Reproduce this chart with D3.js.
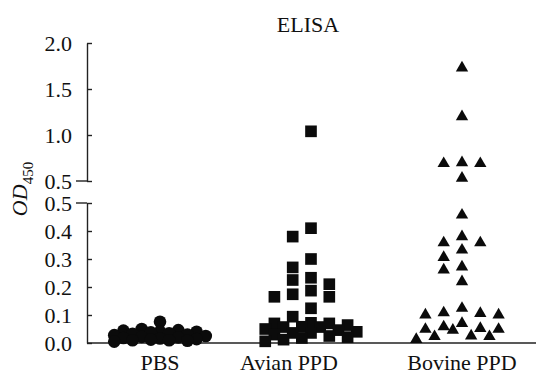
<!DOCTYPE html>
<html>
<head>
<meta charset="utf-8">
<script src="https://cdn.jsdelivr.net/npm/d3@7"></script>
<style>
  body { margin: 0; background: #fff; }
  svg { display: block; }
  text { font-family: "Liberation Serif", "Times New Roman", serif; fill: #111; }
</style>
</head>
<body>
<svg id="chart"></svg>
<script>
// data
const categories = ["PBS", "Avian PPD", "Bovine PPD"];
const pbsValues = [0.076, 0.05, 0.046, 0.044, 0.04, 0.04, 0.038, 0.035, 0.033, 0.03, 0.028,
    0.025, 0.022, 0.02, 0.018, 0.016, 0.014, 0.012, 0.01, 0.01, 0.008, 0.005];
const avianValues = [1.04, 0.41, 0.38, 0.30, 0.27, 0.233, 0.225, 0.21, 0.187, 0.174, 0.165, 0.165,
    0.124, 0.094, 0.072, 0.07, 0.07, 0.064, 0.058, 0.057, 0.057, 0.05, 0.046, 0.04,
    0.036, 0.036, 0.03, 0.025, 0.021, 0.018, 0.012, 0.006];
const bovineValues = [1.73, 1.20, 0.70, 0.69, 0.69, 0.53, 0.457, 0.38, 0.358, 0.358, 0.332, 0.306,
    0.272, 0.261, 0.219, 0.124, 0.108, 0.106, 0.10, 0.10, 0.07, 0.058, 0.052, 0.049, 0.049,
    0.046, 0.025, 0.023, 0.023, 0.013];
const lowerTicks = [0, 0.1, 0.2, 0.3, 0.4, 0.5];
const upperTicks = [0.5, 1.0, 1.5, 2.0];

const W = 536, H = 376;
const axisX = 87;

const svg = d3.select("#chart").attr("width", W).attr("height", H);

// broken y axis: two linear pieces
const yLow = d3.scaleLinear().domain([0, 0.5]).range([343, 203]);
const yHigh = d3.scaleLinear().domain([0.5, 2.0]).range([181, 43]);
const yOf = v => v > 0.5 ? yHigh(v) : yLow(v);

const x = d3.scalePoint().domain(categories).range([160, 462]);

const ink = "#0b0b0b";

// lower axis
const gLow = svg.append("g").attr("transform", `translate(${axisX},0)`)
    .call(d3.axisLeft(yLow).tickValues(lowerTicks).tickFormat(d3.format(".1f"))
        .tickSizeInner(-5).tickSizeOuter(0).tickPadding(15));
// upper axis
const gHigh = svg.append("g").attr("transform", `translate(${axisX},0)`)
    .call(d3.axisLeft(yHigh).tickValues(upperTicks).tickFormat(d3.format(".1f"))
        .tickSizeInner(-5).tickSizeOuter(0).tickPadding(15));

[gLow, gHigh].forEach(g => {
    g.selectAll("path.domain").attr("stroke", "#222").attr("stroke-width", 1.4);
    g.selectAll(".tick line").attr("stroke", "#222").attr("stroke-width", 1.4);
    g.selectAll(".tick text").attr("font-size", 22).attr("fill", "#111")
        .style("font-family", "'Liberation Serif', serif");
});
// caps at the break (0.5 ticks reach out to the left)
[yLow(0.5), yHigh(0.5)].forEach(yy => {
    svg.append("line").attr("x1", axisX - 11).attr("x2", axisX)
        .attr("y1", yy).attr("y2", yy).attr("stroke", "#222").attr("stroke-width", 1.4);
});

// x axis line
svg.append("line").attr("x1", axisX).attr("x2", W)
    .attr("y1", yLow(0)).attr("y2", yLow(0))
    .attr("stroke", "#222").attr("stroke-width", 1.6);

// category labels (the middle one sits a bit left of its column in the original)
const labelShift = {"Avian PPD": -22};
svg.append("g").selectAll("text").data(categories).join("text")
    .attr("x", d => x(d) + (labelShift[d] || 0)).attr("y", 370)
    .attr("text-anchor", "middle").attr("font-size", 22)
    .text(d => d);

// title
svg.append("text").attr("x", 308).attr("y", 32).attr("text-anchor", "middle")
    .attr("font-size", 22).text("ELISA");

// y label OD450
const yl = svg.append("text").attr("transform", "translate(27,189) rotate(-90)")
    .attr("text-anchor", "middle").attr("font-size", 22);
yl.append("tspan").attr("font-style", "italic").text("OD");
yl.append("tspan").attr("font-size", 15).attr("dy", 6).text("450");

// simple column scatter like Prism: points go to free slots left/right of centre
function swarm(values, cx, size) {
    const step = 18.3;
    const pts = values.map(v => ({v, y: yOf(v)})).sort((a, b) => a.y - b.y);
    const placed = [];
    for (const p of pts) {
        let best = null;
        for (const c of [0, -1, 1, -2, 2]) {
            const xx = cx + c * step;
            if (placed.every(q => Math.hypot(q.x - xx, q.y - p.y) >= size)) { best = xx; break; }
        }
        if (best === null) {
            let bestD = -1;
            for (const c of [0, -0.5, 0.5, -1, 1, -1.5, 1.5, -2, 2, -2.5, 2.5]) {
                const xx = cx + c * step;
                const dd = d3.min(placed, q => Math.hypot(q.x - xx, q.y - p.y));
                if (dd > bestD + 0.5) { bestD = dd; best = xx; }
            }
        }
        p.x = best;
        placed.push(p);
    }
    return placed;
}

const groups = [
    {values: pbsValues, cat: "PBS", symbol: d3.symbolCircle, area: 125},
    {values: avianValues, cat: "Avian PPD", symbol: d3.symbolSquare, area: 136},
    {values: bovineValues, cat: "Bovine PPD", symbol: d3.symbolTriangle, area: 66}
];

groups.forEach(gr => {
    const pts = swarm(gr.values, x(gr.cat), 12);
    svg.append("g").selectAll("path").data(pts).join("path")
        .attr("transform", d => `translate(${d.x},${d.y})`)
        .attr("d", d3.symbol(gr.symbol, gr.area))
        .attr("fill", ink);
});
</script>
</body>
</html>
